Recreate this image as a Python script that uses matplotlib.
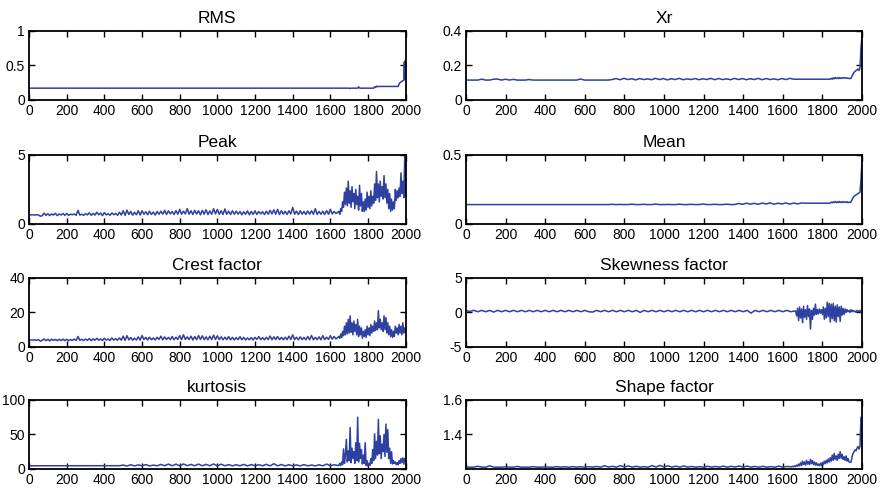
import numpy as np
import matplotlib
matplotlib.use("Agg")
import matplotlib.pyplot as plt

plt.rcParams["font.family"] = ["Liberation Sans", "DejaVu Sans"]

LINE_COLOR = "#2e40a0"

# ---- data (sample index 0..2000) ----
# RMS
rms_x = [0, 1700, 1705, 1710, 1745, 1750, 1755, 1830, 1835, 1840, 1845, 1850, 1855,
         1960, 1965, 1970, 1980, 1990, 1993, 1995, 1997, 2000]
rms_y = [0.17, 0.17, 0.165, 0.17, 0.17, 0.19, 0.17, 0.17, 0.19, 0.18, 0.2, 0.19, 0.195,
         0.195, 0.23, 0.25, 0.27, 0.285, 0.55, 0.30, 0.56, 0.58]

# Xr
xr_early = [0.115, 0.115, 0.115, 0.115, 0.12, 0.115, 0.115, 0.12, 0.121, 0.115, 0.12,
            0.115, 0.119, 0.115, 0.115, 0.115, 0.118, 0.115, 0.115, 0.115, 0.115,
            0.115, 0.115, 0.115, 0.115, 0.115, 0.115, 0.115, 0.115, 0.121, 0.115,
            0.115, 0.115, 0.115, 0.115, 0.115, 0.115,
            0.118, 0.124, 0.117, 0.125, 0.118, 0.123, 0.116, 0.124, 0.118, 0.122,
            0.117, 0.125, 0.118, 0.124, 0.116, 0.123, 0.118, 0.125, 0.117, 0.122,
            0.118, 0.124, 0.117, 0.123, 0.118, 0.125, 0.117, 0.124, 0.118, 0.122,
            0.117, 0.125, 0.118, 0.124, 0.117, 0.123, 0.118, 0.125, 0.117, 0.124,
            0.118, 0.122, 0.117, 0.124, 0.118, 0.125, 0.12, 0.12, 0.12, 0.12,
            0.12, 0.12, 0.12, 0.12, 0.12, 0.12]
xr_late = [0.12, 0.125, 0.12, 0.128, 0.122, 0.13, 0.124, 0.128, 0.123, 0.13, 0.124,
           0.128, 0.125, 0.13, 0.126, 0.129, 0.125, 0.128, 0.124, 0.126, 0.123,
           0.125, 0.14, 0.15, 0.16, 0.165, 0.17, 0.175, 0.18, 0.17, 0.185, 0.3, 0.37]

# Peak (early part every 10 samples)
peak_early = [0.65, 0.65, 0.66, 0.64, 0.66, 0.65, 0.55, 0.6, 0.78, 0.62,
              0.74, 0.6, 0.72, 0.64, 0.76, 0.6, 0.72, 0.64, 0.75, 0.62,
              0.75, 0.62, 0.7, 0.66, 0.72, 0.62, 0.98, 0.64, 0.7, 0.62,
              0.74, 0.65, 0.8, 0.62, 0.76, 0.64, 0.85, 0.66, 0.78, 0.6,
              0.82, 0.65, 0.74, 0.62, 0.8, 0.66, 0.76, 0.62, 0.85, 0.64,
              0.95, 0.62, 1.0, 0.68, 0.9, 0.63, 0.84, 0.66, 0.95, 0.64,
              0.95, 0.7, 0.88, 0.66, 0.92, 0.68, 0.86, 0.64, 0.9, 0.7,
              0.92, 0.7, 0.98, 0.68, 0.95, 0.72, 0.9, 0.68, 0.96, 0.7,
              1.05, 0.7, 0.92, 0.72, 1.1, 0.7, 0.95, 0.68, 0.98, 0.72,
              0.95, 0.66, 0.98, 0.7, 1.02, 0.68, 0.94, 0.7, 1.1, 0.72,
              1.05, 0.7, 0.95, 0.68, 1.08, 0.7, 0.92, 0.68, 0.95, 0.7,
              0.92, 0.7, 0.9, 0.66, 0.88, 0.7, 0.94, 0.66, 0.9, 0.68,
              0.95, 0.68, 0.9, 0.72, 0.88, 0.68, 0.92, 0.7, 0.98, 0.72,
              1.02, 0.7, 1.05, 0.68, 0.95, 0.7, 0.92, 0.68, 0.95, 0.72,
              1.2, 0.7, 0.92, 0.68, 0.95, 0.7, 0.9, 0.68, 0.94, 0.7,
              0.95, 0.7, 1.1, 0.68, 0.9, 0.7, 0.92, 0.68, 0.96, 0.7,
              1.05, 0.72, 0.9, 0.75, 0.85]
peak_late = [0.9, 0.7, 1.1, 0.9, 1.6, 1.2, 2.3, 1.4, 2.6, 1.3, 3.1, 1.5, 2.4, 1.2,
             2.7, 1.6, 2.2, 1.1, 2.5, 1.4, 2.0, 1.0, 2.8, 1.3, 2.2, 0.9, 1.6, 0.9,
             1.8, 1.0, 2.3, 1.2, 2.0, 1.1, 2.4, 1.3, 2.0, 1.5, 2.9, 1.7, 3.8, 1.9,
             2.9, 1.6, 3.1, 2.0, 2.7, 1.8, 3.5, 1.9, 2.9, 1.5, 2.5, 1.1, 2.2, 0.9,
             1.8, 1.0, 1.6, 1.1, 2.5, 1.7, 2.4, 1.9, 2.6, 2.0, 3.7, 2.2, 3.1, 1.9,
             4.9, 2.1]

# Mean
mean_early = [0.14] * 37 + [0.142, 0.14, 0.141, 0.14, 0.14, 0.143, 0.14, 0.14, 0.142,
              0.14, 0.14, 0.144, 0.14, 0.14, 0.141, 0.14, 0.14, 0.143, 0.14, 0.14,
              0.142, 0.14, 0.14, 0.144, 0.14, 0.14, 0.142, 0.14, 0.14, 0.143,
              0.14, 0.14, 0.148, 0.142, 0.15, 0.143, 0.149, 0.142, 0.151, 0.144,
              0.152, 0.143, 0.15, 0.144, 0.152, 0.143, 0.151, 0.145, 0.152, 0.15,
              0.15, 0.15, 0.15, 0.15, 0.15, 0.15]
mean_late = [0.152, 0.158, 0.153, 0.16, 0.154, 0.162, 0.155, 0.16, 0.154, 0.163,
             0.155, 0.16, 0.154, 0.162, 0.156, 0.16, 0.155, 0.161, 0.154, 0.158,
             0.155, 0.16, 0.175, 0.19, 0.2, 0.205, 0.21, 0.215, 0.22, 0.225,
             0.23, 0.32, 0.45]

# Crest factor (early part every 10 samples)
crest_early = [4.0, 4.0, 3.9, 4.1, 3.8, 4.2, 3.3, 3.8, 4.6, 3.6,
               4.4, 3.5, 4.5, 3.8, 4.3, 3.6, 4.4, 3.7, 4.5, 3.6,
               4.4, 3.6, 4.2, 3.8, 4.5, 3.7, 6.0, 3.8, 4.4, 3.7,
               4.5, 3.8, 4.8, 3.6, 4.6, 3.9, 5.0, 3.9, 4.6, 3.7,
               5.0, 3.9, 4.6, 3.7, 5.2, 3.9, 4.8, 3.8, 5.2, 3.9,
               6.2, 3.8, 6.5, 4.1, 5.4, 3.9, 5.0, 4.0, 5.8, 3.9,
               6.6, 4.2, 5.5, 4.0, 5.6, 4.1, 5.2, 4.0, 5.6, 4.3,
               6.2, 4.1, 5.8, 4.3, 5.5, 4.2, 6.0, 4.1, 5.6, 4.3,
               6.5, 4.2, 7.0, 4.3, 5.8, 4.2, 6.2, 4.0, 6.0, 4.2,
               6.6, 4.3, 6.4, 4.2, 5.8, 4.1, 6.2, 4.2, 6.8, 4.3,
               6.4, 4.2, 5.8, 4.1, 5.6, 4.2, 6.0, 4.1, 5.5, 4.0,
               5.4, 4.2, 5.9, 4.1, 5.5, 4.0, 5.2, 4.1, 5.4, 4.0,
               5.5, 4.3, 6.0, 4.2, 5.4, 4.1, 5.6, 4.2, 6.3, 4.1,
               5.8, 4.3, 6.0, 4.2, 5.5, 4.1, 5.6, 4.2, 6.2, 4.3,
               7.0, 4.2, 5.6, 4.1, 5.8, 4.2, 5.5, 4.1, 6.0, 4.2,
               6.6, 4.1, 5.5, 4.2, 5.8, 4.1, 6.5, 4.2, 5.6, 4.3,
               6.5, 4.5, 6.0, 4.6, 5.5]
crest_late = [6, 5, 7.5, 5.5, 9, 6.5, 12, 7, 14, 7.5, 16, 8, 18, 8.5, 14, 7, 15, 9,
              13, 7, 16, 6, 12, 7, 11, 5, 9, 6, 10, 5.5, 12, 7, 11, 6.5, 13, 8, 12,
              9, 15, 9.5, 14, 10, 21, 11, 16, 10, 14, 9, 18, 10, 17, 8, 14, 7, 12,
              6, 10, 5.5, 9, 6, 12, 8, 11, 7, 13, 8, 12, 7, 14, 8, 11, 9]

# Skewness factor
skew_early = [0.25, 0.15, 0.3, 0.1, 0.3, 0.1, 0.3, 0.05, 0.3, 0.1, 0.3, 0.1, 0.3,
              0.1, 0.3, 0.1, 0.3, 0.1, 0.3, 0.1, 0.3, 0.1, 0.3, 0.1, 0.3, 0.1,
              0.3, 0.1, 0.3, 0.1, 0.3, 0.1, 0.05, 0.3, 0.1, 0.3, 0.1, 0.3, 0.1,
              0.3, 0.1, 0.3, 0.1, 0.3, 0.0, 0.3, 0.1, 0.3, 0.1, 0.3, 0.1, 0.3,
              0.1, 0.3, 0.1, 0.3, 0.1, 0.3, 0.1, 0.3, 0.1, 0.3, 0.1, 0.3, 0.1,
              0.3, 0.1, 0.3, 0.1, 0.3, 0.1, 0.3, -0.1, 0.3, 0.1, 0.3, 0.1, 0.3,
              0.1, 0.3, 0.1, 0.3, 0.1, 0.2]
skew_late = [0.2, -0.5, 0.6, -1.2, 0.8, -0.8, 0.5, -1.5, 0.9, -0.7, 0.4, -1.0, 1.0,
             -0.6, 0.5, -2.4, 0.3, -1.0, 0.6, -0.4, 1.2, -0.3, 0.4, -0.2, 0.5, -0.1,
             0.4, -0.3, 0.8, -1.0, 0.6, -0.8, 1.5, -0.6, 1.3, -1.4, 1.2, -0.9, 1.3,
             -1.2, 0.9, -1.4, 1.1, -0.6, 0.8, -1.3, 0.9, -0.4, 0.6, -0.3, 0.5, 0.0,
             0.4, 0.1, 0.3, 0.0, 0.4, 0.1, 0.3, 0.1, 0.2, 0.0, 0.3, 0.2, 0.1, 0.3,
             0.0, 0.2]

# kurtosis
kurt_early = [4.5, 4.5, 4.5, 4.5, 4.5, 4.6, 4.5, 4.5, 4.5, 4.5, 4.5, 4.5, 4.6, 4.5,
              4.5, 4.5, 4.5, 4.5, 4.6, 4.5, 4.5, 4.5, 4.5, 4.5, 4.6,
              5.5, 4.2, 6.0, 4.3, 5.8, 4.5, 6.2, 4.3, 5.5, 4.4, 6.5, 4.6, 7.0, 4.5,
              6.8, 4.4, 7.2, 4.6, 6.5, 4.5, 7.0, 4.4, 6.6, 4.5, 7.2, 4.3, 6.8, 4.5,
              6.2, 4.4, 6.0, 4.5, 6.5, 4.3, 6.3, 4.4, 6.0, 4.5, 6.6, 4.3, 7.5, 4.4,
              6.4, 4.3, 6.0, 4.4, 5.8, 4.3, 6.2, 4.4, 5.6, 4.3, 6.0, 4.4, 7.0, 4.5,
              6.0, 5.0]
kurt_late = [5, 8, 5, 10, 6, 29, 8, 20, 43, 10, 26, 12, 60, 9, 30, 15, 25, 8, 38, 12,
             75, 10, 37, 15, 28, 7, 20, 8, 38, 5, 12, 4, 8, 5, 15, 8, 28, 12, 51, 15,
             40, 20, 72, 22, 48, 15, 36, 25, 50, 18, 65, 24, 57, 15, 30, 8, 25, 7, 12,
             8, 10, 6, 9, 6, 12, 8, 15, 9, 16, 7, 15, 12]

# Shape factor
shape_early = [1.21, 1.21, 1.21, 1.215, 1.21, 1.21, 1.218, 1.21, 1.21, 1.21, 1.212,
               1.21, 1.21, 1.214, 1.21, 1.21, 1.21, 1.213, 1.21, 1.21, 1.212, 1.21,
               1.21, 1.213, 1.21, 1.212, 1.21, 1.213, 1.21, 1.212, 1.21, 1.213,
               1.21, 1.214, 1.21, 1.218, 1.211, 1.215, 1.21, 1.219, 1.211, 1.217,
               1.21, 1.215, 1.21, 1.213, 1.21, 1.219, 1.211, 1.22, 1.211, 1.218,
               1.21, 1.216, 1.21, 1.217, 1.21, 1.214, 1.21, 1.213, 1.21, 1.215,
               1.21, 1.214, 1.21, 1.216, 1.21, 1.215, 1.211, 1.217, 1.21, 1.216,
               1.21, 1.214, 1.21, 1.215, 1.21, 1.213, 1.21, 1.216, 1.21, 1.214, 1.212]
shape_late = [1.212, 1.215, 1.212, 1.218, 1.213, 1.222, 1.215, 1.228, 1.218, 1.235,
              1.22, 1.245, 1.225, 1.24, 1.222, 1.25, 1.228, 1.242, 1.225, 1.255,
              1.23, 1.248, 1.225, 1.24, 1.222, 1.235, 1.22, 1.228, 1.218, 1.232,
              1.22, 1.238, 1.225, 1.245, 1.23, 1.25, 1.235, 1.258, 1.24, 1.265,
              1.245, 1.28, 1.25, 1.29, 1.255, 1.275, 1.25, 1.285, 1.26, 1.30,
              1.262, 1.285, 1.255, 1.27, 1.25, 1.275, 1.245, 1.26, 1.24, 1.238,
              1.24, 1.27, 1.29, 1.3, 1.31, 1.305, 1.32, 1.33, 1.315, 1.33, 1.5, 1.34]


def join(early, late, early_end, late_start):
    # early part sampled coarsely, late part every 5 samples
    x1 = np.linspace(0, early_end, len(early))
    x2 = late_start + 5 * np.arange(len(late))
    return np.concatenate([x1, x2]), np.array(early + late)


panels = [
    ("RMS", (rms_x, rms_y), (0, 1), [0, 0.5, 1], ["0", "0.5", "1"]),
    ("Xr", join(xr_early, xr_late, 1835, 1840), (0, 0.4), [0, 0.2, 0.4], ["0", "0.2", "0.4"]),
    ("Peak", join(peak_early, peak_late, 1640, 1645), (0, 5), [0, 5], ["0", "5"]),
    ("Mean", join(mean_early, mean_late, 1835, 1840), (0, 0.5), [0, 0.5], ["0", "0.5"]),
    ("Crest factor", join(crest_early, crest_late, 1640, 1645), (0, 40), [0, 20, 40], ["0", "20", "40"]),
    ("Skewness factor", join(skew_early, skew_late, 1660, 1665), (-5, 5), [-5, 0, 5], ["-5", "0", "5"]),
    ("kurtosis", join(kurt_early, kurt_late, 1640, 1645), (0, 100), [0, 50, 100], ["0", "50", "100"]),
    ("Shape factor", join(shape_early, shape_late, 1640, 1645), (1.2, 1.6), [1.4, 1.6], ["1.4", "1.6"]),
]

fig = plt.figure(figsize=(8.8, 4.92), dpi=100)
lefts = [0.033, 0.5295]
widths = [0.428, 0.45]
bottoms = [0.797, 0.545, 0.295, 0.047]
for i, (title, (xs, ys), ylim, yticks, ylabels) in enumerate(panels):
    row, col = i // 2, i % 2
    ax = fig.add_axes([lefts[col], bottoms[row], widths[col], 0.14])
    ax.plot(xs, ys, color=LINE_COLOR, linewidth=1.1)
    ax.set_xlim(0, 2000)
    ax.set_ylim(*ylim)
    ax.set_xticks(range(0, 2001, 200))
    ax.set_yticks(yticks)
    ax.set_yticklabels(ylabels)
    ax.tick_params(direction="in", top=True, right=True, length=4, width=1,
                   labelsize=10, pad=3)
    for s in ax.spines.values():
        s.set_linewidth(1.3)
    ax.set_title(title, fontsize=12.5, pad=6)

fig.savefig("out.png", dpi=100)
